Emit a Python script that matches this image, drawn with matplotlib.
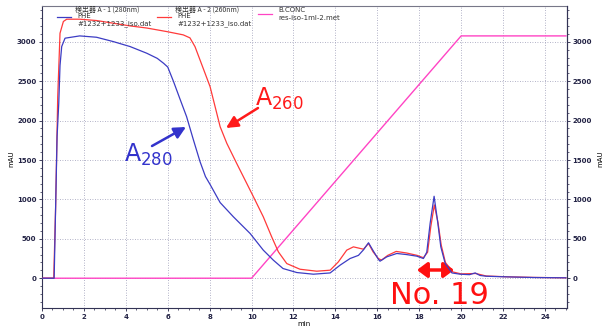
import matplotlib
matplotlib.use("Agg")
import matplotlib.pyplot as plt
import numpy as np

# ---- data ----
blue_t = [0, 0.58, 0.65, 0.72, 0.80, 0.86, 0.94, 1.1, 1.8, 2.6, 3.4, 4.2, 5.0, 5.5, 5.8, 6.0,
          6.27, 6.59, 6.9, 7.22, 7.54, 7.8, 8.02, 8.5, 9.13, 9.93, 10.56, 11.04, 11.5, 12.16,
          12.95, 13.75, 14.22, 14.7, 15.1, 15.34, 15.58, 15.8, 16.05, 16.13, 16.45, 16.93,
          17.4, 17.88, 18.2, 18.36, 18.52, 18.71, 18.87, 19.03, 19.24, 19.56, 19.95, 20.4,
          20.67, 20.9, 21.2, 22.2, 23.45, 25]
blue_v = [0, 0, 900, 1800, 2220, 2700, 2940, 3046, 3075, 3058, 3003, 2940, 2855, 2790, 2728, 2680,
          2500, 2270, 2050, 1760, 1480, 1290, 1190, 960, 780, 568, 356, 229, 123, 72,
          51, 67, 165, 250, 290, 360, 450, 350, 240, 216, 271, 314,
          300, 280, 250, 330, 695, 1040, 737, 398, 186, 67, 51, 45,
          67, 35, 25, 17, 9, 5]

red_t = [0, 0.56, 0.65, 0.75, 0.86, 1.02, 1.18, 1.8, 2.6, 3.4, 4.2, 5.0, 5.95, 6.74, 7.06, 7.3,
         7.54, 7.78, 8.02, 8.26, 8.5, 8.82, 9.29, 9.77, 10.09, 10.56, 10.96, 11.28, 11.68,
         12.31, 13.11, 13.75, 14.14, 14.54, 14.86, 15.34, 15.58, 15.8, 16.05, 16.2, 16.5,
         16.9, 17.4, 17.9, 18.2, 18.4, 18.55, 18.72, 18.9, 19.05, 19.25, 19.6, 20.0, 20.7,
         21.2, 22.2, 23.5, 25]
red_v = [0, 0, 900, 2300, 3109, 3258, 3287, 3287, 3270, 3236, 3202, 3175, 3130, 3088, 3050, 2939,
         2770, 2601, 2431, 2177, 1923, 1711, 1457, 1203, 1033, 779, 525, 334, 186,
         114, 89, 102, 207, 356, 398, 368, 441, 334, 250, 230, 290,
         340, 320, 290, 260, 330, 650, 930, 700, 420, 200, 80, 55, 60,
         28, 18, 10, 5]

conc_t = [0, 10, 20, 25]
conc_v = [0, 0, 3075, 3075]

x_ticks = list(range(0, 25, 2))
y_ticks = list(range(0, 3001, 500))

BLUE = "#3c3cc4"
RED = "#ff3a3a"
PINK = "#ff44c4"
GRID = "#9a9ab6"

fig = plt.figure(figsize=(6.14, 3.31), dpi=100, facecolor="white")
ax = fig.add_axes([0.0684, 0.069, 0.855, 0.913])
ax.set_xlim(0, 25.05)
ax.set_ylim(-380, 3455)

for x in x_ticks[1:]:
    ax.axvline(x, color=GRID, lw=0.6, ls=(0, (1, 2)), zorder=0)
for y in y_ticks:
    ax.axhline(y, color=GRID, lw=0.6, ls=(0, (1, 2)), zorder=0)

ax.plot(conc_t, conc_v, color=PINK, lw=1.0, zorder=2)
ax.plot(red_t, red_v, color=RED, lw=0.9, zorder=3)
ax.plot(blue_t, blue_v, color=BLUE, lw=0.9, zorder=4)

ax.set_xticks(x_ticks)
ax.set_xticks(np.arange(0, 25.01, 0.5), minor=True)
ax.set_yticks(y_ticks)
ax.set_yticks(np.arange(-300, 3401, 100), minor=True)
ax.tick_params(axis="both", labelsize=5, length=2.5, width=0.6, pad=1.5, colors="#222244")
ax.tick_params(which="minor", length=1.5, width=0.5, colors="#222244")
for lab in ax.get_xticklabels() + ax.get_yticklabels():
    lab.set_fontweight("bold")
for s in ax.spines.values():
    s.set_color("#333355")
    s.set_linewidth(0.8)
ax.spines["top"].set_color("#777788")

ax2 = ax.twinx()
ax2.set_ylim(ax.get_ylim())
ax2.set_yticks(y_ticks)
ax2.set_yticks(np.arange(-300, 3401, 100), minor=True)
ax2.tick_params(axis="y", labelsize=5, length=2.5, width=0.6, pad=1.5, colors="#222244")
ax2.tick_params(which="minor", length=1.5, width=0.5, colors="#222244")
for lab in ax2.get_yticklabels():
    lab.set_fontweight("bold")
for s in ax2.spines.values():
    s.set_visible(False)
ax2.spines["right"].set_visible(True)
ax2.spines["right"].set_color("#333355")

ax.set_xlabel("min", fontsize=5, labelpad=1)
fig.text(0.018, 0.52, "mAU", rotation=90, fontsize=5, ha="center", va="center")
fig.text(0.978, 0.52, "mAU", rotation=90, fontsize=5, ha="center", va="center")

# legend-like header
jp = ["Noto Sans CJK JP", "DejaVu Sans"]
def px(x, y):
    return (x / 614, 1 - y / 331)

for (x0, col, head, l2, l3) in [(57, BLUE, "検出器 A - 1 (280nm)", "PHE", "#1232+1233_iso.dat"),
                                (157, RED, "検出器 A - 2 (260nm)", "PHE", "#1232+1233_iso.dat")]:
    fig.add_artist(plt.Line2D([x0 / 614, (x0 + 14) / 614], [1 - 16.5 / 331] * 2,
                              color=col, lw=0.9, transform=fig.transFigure))
    fig.text(*px(x0 + 18, 10), head, fontsize=5, family=jp, va="center", color="#333333")
    fig.text(*px(x0 + 20, 16.5), l2, fontsize=5, va="center", color="#333333")
    fig.text(*px(x0 + 20, 24), l3, fontsize=5, va="center", color="#333333")
fig.add_artist(plt.Line2D([258 / 614, 272 / 614], [1 - 14 / 331] * 2,
                          color=PINK, lw=0.9, transform=fig.transFigure))
fig.text(*px(278, 10), "B.CONC", fontsize=5, va="center", color="#333333")
fig.text(*px(278, 17.5), "res-iso-1ml-2.met", fontsize=5, va="center", color="#333333")

# annotations
fig.text(*px(255, 99), r"A$_{260}$", fontsize=17, color="#ff1a1a", va="center", ha="left")
ax.annotate("", xy=px(226, 128), xycoords="figure fraction",
            xytext=px(258, 108), textcoords="figure fraction",
            arrowprops=dict(arrowstyle="-|>,head_length=0.7,head_width=0.35",
                            color="#ff1a1a", lw=1.8, shrinkA=0, shrinkB=0))
fig.text(*px(124, 155), r"A$_{280}$", fontsize=17, color="#3333cc", va="center", ha="left")
ax.annotate("", xy=px(186, 127), xycoords="figure fraction",
            xytext=px(152, 146), textcoords="figure fraction",
            arrowprops=dict(arrowstyle="-|>,head_length=0.7,head_width=0.35",
                            color="#3333cc", lw=1.8, shrinkA=0, shrinkB=0))
fig.text(*px(439, 295), "No. 19", fontsize=22, color="#ff1010", va="center", ha="center")
ax.annotate("", xy=px(454, 270), xycoords="figure fraction",
            xytext=px(417, 270), textcoords="figure fraction",
            arrowprops=dict(arrowstyle="<|-|>,head_length=0.6,head_width=0.45",
                            color="#ff1010", lw=2.5, shrinkA=0, shrinkB=0))

fig.savefig("out.png", dpi=100, facecolor="white")
